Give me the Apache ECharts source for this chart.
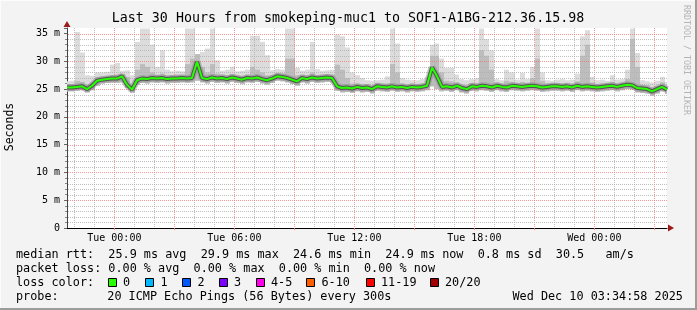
<!DOCTYPE html>
<html><head><meta charset="utf-8">
<script src="https://cdn.jsdelivr.net/npm/echarts@6/dist/echarts.min.js"></script>
<style>html,body{margin:0;padding:0;background:#f3f3f3}#c{width:697px;height:310px}</style>
</head><body><div id="c"></div>
<script>
// ---- data ----
const chartTitle = 'Last 30 Hours from smokeping-muc1 to SOF1-A1BG-212.36.15.98';
const startHour = -2.3667;   // Mon 21:38, hours relative to Tue 00:00
const endHour = 27.6333;     // Wed 03:38
const stepHours = 0.25;      // one sample every 15 minutes
const median = [
 25.3,25.3,25.4,25.5,25.0,25.6,26.5,26.7,26.8,26.9,
 26.9,27.3,25.8,24.9,26.6,26.9,26.8,27.0,26.9,27.0,
 26.8,26.9,26.9,27.0,26.9,27.0,29.9,27.0,26.8,27.1,
 26.9,27.0,26.8,27.1,26.9,26.7,27.0,26.9,27.1,26.8,
 26.6,26.9,27.3,27.2,27.0,26.7,26.4,27.0,26.8,27.1,
 26.9,27.0,27.1,27.0,25.5,25.2,25.3,25.1,25.4,25.2,
 25.3,25.0,25.5,25.4,25.3,25.5,25.3,25.4,25.2,25.4,
 25.3,25.4,25.6,28.9,27.3,25.4,25.5,25.3,25.6,25.2,
 25.0,25.5,25.4,25.6,25.5,25.3,25.6,25.4,25.3,25.6,
 25.5,25.4,25.5,25.6,25.5,25.3,25.4,25.5,25.5,25.4,
 25.5,25.3,25.6,25.4,25.5,25.4,25.3,25.4,25.5,25.6,
 25.4,25.6,25.8,25.7,25.2,25.1,25.0,24.6,25.0,25.4,24.9
];
const smokeMax = [
 26.4,26.5,35.3,31.6,27.5,27.4,28.0,28.0,28.1,29.4,
 29.7,28.3,28.4,27.5,33.5,35.9,35.9,33.0,29.0,32.0,
 28.5,28.2,28.3,28.2,35.9,35.9,31.3,31.7,32.3,35.9,
 30.2,28.3,28.5,29.0,28.2,28.3,28.5,34.6,34.6,33.5,
 31.1,28.4,28.6,28.5,35.9,35.9,28.8,28.3,28.5,33.5,
 28.6,28.3,28.4,28.5,34.8,34.5,32.5,28.0,27.5,27.0,
 26.6,26.5,26.6,26.7,27.3,35.9,33.2,27.0,26.7,26.6,
 26.6,26.8,27.2,33.0,33.2,30.5,28.8,28.8,27.6,26.8,
 26.6,26.8,27.0,35.9,34.0,32.0,26.8,26.6,28.5,28.0,
 26.7,27.9,26.8,29.0,35.9,28.0,26.6,26.5,26.7,26.8,
 26.6,26.7,27.8,34.5,35.6,27.2,26.6,26.7,26.5,27.5,
 26.7,26.8,28.5,35.9,31.5,26.6,26.4,26.2,26.5,27.2,26.3
];
const smokeMid = [
 25.9,25.9,26.5,26.3,25.8,26.2,27.2,27.3,27.4,27.5,
 27.6,27.8,27.2,25.8,28.5,29.5,29.0,28.0,27.6,27.8,
 27.5,27.5,27.6,27.6,29.5,30.5,31.3,29.0,28.0,29.5,
 27.8,27.6,27.5,27.7,27.5,27.4,27.6,29.0,28.5,28.0,
 27.5,27.5,27.9,27.8,30.5,30.5,27.5,27.6,27.5,28.0,
 27.5,27.6,27.7,27.6,29.4,28.5,27.0,26.0,26.0,25.8,
 25.9,25.6,26.1,26.0,26.0,29.5,28.0,26.0,25.8,26.0,
 25.9,26.0,26.2,31.0,31.0,28.0,26.5,26.4,26.2,25.8,
 25.6,26.1,26.0,32.0,31.0,28.5,26.2,26.0,26.5,26.3,
 26.1,26.3,26.1,27.0,30.5,26.5,26.0,26.1,26.1,26.0,
 26.1,25.9,26.4,31.0,33.0,26.2,25.9,26.0,26.1,26.3,
 26.0,26.2,26.8,34.0,29.0,25.8,25.7,25.3,25.6,26.2,25.5
];
const smokeMin = [
 24.6,24.6,24.7,24.8,24.4,24.8,25.6,26.0,26.1,26.1,
 26.1,26.2,25.2,24.3,25.8,26.1,26.0,26.2,26.1,26.2,
 26.0,26.1,26.1,26.2,26.1,26.2,26.5,26.2,26.0,26.3,
 26.1,26.2,26.0,26.3,26.1,25.9,26.2,26.1,26.3,26.0,
 25.8,26.1,26.5,26.4,26.2,25.9,25.6,26.2,26.0,26.3,
 26.1,26.2,26.3,26.2,24.7,24.4,24.5,24.3,24.6,24.4,
 24.5,24.2,24.7,24.6,24.5,24.7,24.5,24.6,24.4,24.6,
 24.5,24.6,24.8,25.5,25.0,24.6,24.7,24.5,24.8,24.4,
 24.2,24.7,24.6,24.8,24.7,24.5,24.8,24.6,24.5,24.8,
 24.7,24.6,24.7,24.8,24.7,24.5,24.6,24.7,24.7,24.6,
 24.7,24.5,24.8,24.6,24.7,24.6,24.5,24.6,24.7,24.8,
 24.6,24.8,25.0,24.9,24.4,24.3,24.2,23.8,24.2,24.6,24.1
];
const xTickHours = [0, 6, 12, 18, 24];
const xTickLabels = ['Tue 00:00', 'Tue 06:00', 'Tue 12:00', 'Tue 18:00', 'Wed 00:00'];
const yMax = 36;
const statsLines = [
  'median rtt:  25.9 ms avg  29.9 ms max  24.6 ms min  24.9 ms now  0.8 ms sd  30.5   am/s',
  'packet loss: 0.00 % avg  0.00 % max  0.00 % min  0.00 % now'
];
const lossLabels = ['0', '1', '2', '3', '4-5', '6-10', '11-19', '20/20'];
const lossColors = ['#26ff00', '#00b8ff', '#0059ff', '#7e00ff', '#ff00ea', '#ff5e00', '#ff0000', '#a10000'];
const probeText = '20 ICMP Echo Pings (56 Bytes) every 300s';
const dateText = 'Wed Dec 10 03:34:58 2025';

// ---- build ----
const times = median.map((_, i) => startHour + i * stepHours);
const pair = arr => arr.map((v, i) => [times[i], v]);
const smokeData = median.map((_, i) => [times[i], smokeMin[i], smokeMid[i], smokeMax[i]]);

const MONO = '"DejaVu Sans Mono", "Liberation Mono", monospace';
const minorColor = 'rgba(175,175,175,0.8)';
const majorColor = 'rgba(240,110,110,0.7)';
const vGrid = [];
for (let h = Math.ceil(startHour); h <= Math.floor(endHour); h++) vGrid.push([h, 0, h % 3 === 0 ? 1 : 0]);
const hGrid = [];
for (let v = 1; v <= 35; v++) hGrid.push([startHour, v, v % 5 === 0 ? 1 : 0]);

const chart = echarts.init(document.getElementById('c'), null, { renderer: 'canvas' });

const graphics = [
  { type: 'rect', shape: { x: 0, y: 0, width: 697, height: 1 }, style: { fill: '#fcfcfc' }, silent: true },
  { type: 'rect', shape: { x: 0, y: 0, width: 1, height: 310 }, style: { fill: '#fcfcfc' }, silent: true },
  { type: 'rect', shape: { x: 695, y: 0, width: 2, height: 310 }, style: { fill: '#9c9c9c' }, silent: true },
  { type: 'rect', shape: { x: 0, y: 308, width: 697, height: 2 }, style: { fill: '#9c9c9c' }, silent: true },
  { type: 'text', x: 348, y: 19, style: { text: chartTitle, font: '13.3px ' + MONO, fill: '#000', align: 'center', verticalAlign: 'middle' } },
  { type: 'text', x: 10, y: 127, rotation: Math.PI / 2, style: { text: 'Seconds', font: '11.5px ' + MONO, fill: '#000', align: 'center', verticalAlign: 'middle' } },
  { type: 'text', x: 686, y: 60, rotation: -Math.PI / 2, style: { text: 'RRDTOOL / TOBI OETIKER', font: '8.3px ' + MONO, fill: '#b4b4b4', align: 'center', verticalAlign: 'middle' } },
  { type: 'text', x: 16, y: 254.5, style: { text: statsLines[0], font: '11.8px ' + MONO, fill: '#000', verticalAlign: 'middle' } },
  { type: 'text', x: 16, y: 268.5, style: { text: statsLines[1], font: '11.8px ' + MONO, fill: '#000', verticalAlign: 'middle' } },
  { type: 'text', x: 16, y: 282.5, style: { text: 'loss color:', font: '11.8px ' + MONO, fill: '#000', verticalAlign: 'middle' } },
  { type: 'text', x: 16, y: 296.5, style: { text: 'probe:', font: '11.8px ' + MONO, fill: '#000', verticalAlign: 'middle' } },
  { type: 'text', x: 107.3, y: 296.5, style: { text: probeText, font: '11.8px ' + MONO, fill: '#000', verticalAlign: 'middle' } },
  { type: 'text', x: 512.5, y: 296.5, style: { text: dateText, font: '11.8px ' + MONO, fill: '#000', verticalAlign: 'middle' } }
];
const swatchX = [108.5, 145.5, 182.5, 219.5, 256.5, 306.5, 366.5, 430.5];
const labelX = [123, 160.5, 197.5, 234, 271, 321.5, 381, 445];
lossLabels.forEach((lab, i) => {
  graphics.push({ type: 'rect', shape: { x: swatchX[i], y: 278.5, width: 8, height: 8 }, style: { fill: lossColors[i], stroke: '#000', lineWidth: 1 } });
  graphics.push({ type: 'text', x: labelX[i], y: 282.5, style: { text: lab, font: '11.8px ' + MONO, fill: '#000', verticalAlign: 'middle' } });
});

chart.setOption({
  animation: false,
  backgroundColor: '#f3f3f3',
  grid: { left: 67, right: 30, top: 28, bottom: 82, show: true, backgroundColor: '#ffffff', borderWidth: 0 },
  xAxis: {
    type: 'value', min: startHour, max: endHour,
    axisLine: { show: true, onZero: false, lineStyle: { color: '#000', width: 1 } },
    axisTick: { show: true, customValues: [0, 3, 6, 9, 12, 15, 18, 21, 24, 27], length: 2, lineStyle: { color: '#f08080' } },
    splitLine: { show: false },
    axisLabel: {
      customValues: xTickHours, margin: 5, color: '#000', fontFamily: MONO, fontSize: 10,
      formatter: v => { const k = xTickHours.indexOf(Math.round(v)); return k >= 0 ? xTickLabels[k] : ''; }
    }
  },
  yAxis: {
    type: 'value', min: 0, max: yMax, interval: 5,
    axisLine: { show: true, onZero: false, lineStyle: { color: '#444', width: 1 } },
    axisTick: { show: true, length: 3, lineStyle: { color: '#666' } },
    minorTick: { show: true, splitNumber: 5, length: 2, lineStyle: { color: '#888' } },
    splitLine: { show: false },
    axisLabel: {
      margin: 7, color: '#000', fontFamily: MONO, fontSize: 10, showMaxLabel: false,
      formatter: v => (v % 5 !== 0 ? '' : (v === 0 ? '0' : v + ' m'))
    }
  },
  graphic: graphics,
  series: [
    {
      name: 'smoke', type: 'custom', data: smokeData, clip: true, silent: true, z: 2,
      renderItem: (params, api) => {
        const t = api.value(0);
        const x0 = Math.round(api.coord([t - stepHours / 2, 0])[0]);
        const x1 = Math.round(api.coord([t + stepHours / 2, 0])[0]);
        const yLo = api.coord([t, api.value(1)])[1];
        const yMid = api.coord([t, api.value(2)])[1];
        const yHi = api.coord([t, api.value(3)])[1];
        return { type: 'group', children: [
          { type: 'rect', shape: { x: x0, y: yHi, width: x1 - x0, height: yLo - yHi }, style: { fill: '#dcdcdc' } },
          { type: 'rect', shape: { x: x0, y: yMid, width: x1 - x0, height: yLo - yMid }, style: { fill: '#bdbdbd' } }
        ] };
      }
    },
    {
      name: 'vgrid', type: 'custom', data: vGrid, silent: true, z: 3,
      renderItem: (params, api) => {
        const h = api.value(0);
        const x = Math.round(api.coord([h, 0])[0]) + 0.5;
        const yb = api.coord([h, 0])[1], yt = api.coord([h, yMax])[1];
        return { type: 'line', shape: { x1: x, y1: yt, x2: x, y2: yb },
          style: { stroke: api.value(2) ? majorColor : minorColor, lineWidth: 1, lineDash: [1, 1] } };
      }
    },
    {
      name: 'hgrid', type: 'custom', data: hGrid, silent: true, z: 3,
      renderItem: (params, api) => {
        const v = api.value(1);
        const y = Math.round(api.coord([startHour, v])[1]) + 0.5;
        const xl = api.coord([startHour, v])[0], xr = api.coord([endHour, v])[0];
        return { type: 'line', shape: { x1: xl + 1, y1: y, x2: xr, y2: y },
          style: { stroke: api.value(2) ? majorColor : minorColor, lineWidth: 1, lineDash: [1, 1] } };
      }
    },
    { name: 'smokeSoft', type: 'line', data: pair(median), symbol: 'none', silent: true, z: 4, lineStyle: { color: '#8c8c8c', width: 7, opacity: 0.55 } },
    { name: 'smokeDark', type: 'line', data: pair(median), symbol: 'none', silent: true, z: 4, lineStyle: { color: '#404040', width: 4, opacity: 0.8 } },
    {
      name: 'median', type: 'line', data: pair(median), symbol: 'none', silent: true, z: 5, lineStyle: { color: '#26ff00', width: 2 },
      markPoint: {
        silent: true, label: { show: false }, animation: false,
        data: [
          { coord: [startHour, yMax], symbol: 'triangle', symbolSize: [7, 6], symbolOffset: [0, -4], itemStyle: { color: '#9b1b1b' } },
          { coord: [endHour, 0], symbol: 'triangle', symbolSize: [7, 6], symbolRotate: -90, symbolOffset: [4, 0], itemStyle: { color: '#9b1b1b' } }
        ]
      }
    }
  ]
});
</script>
</body></html>
